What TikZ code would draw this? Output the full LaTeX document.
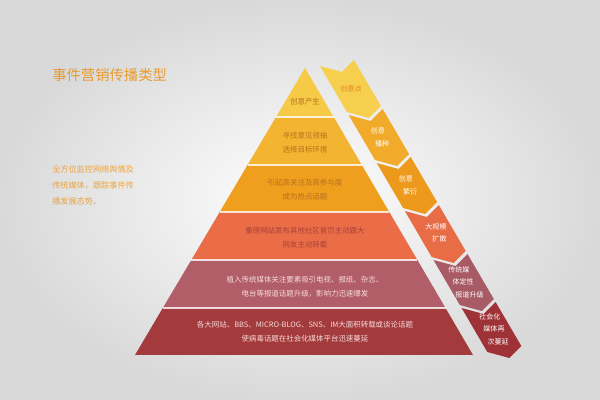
\documentclass[tikz,border=0pt]{standalone}
\usepackage{fontspec}
\usepackage{xcolor}
\usepackage{tikz}
\newfontfamily\cjk{Noto Sans CJK SC}
\definecolor{bgedge}{HTML}{D9D9D9}
\definecolor{layerA}{HTML}{F6CA47}
\definecolor{layerB}{HTML}{F3B432}
\definecolor{layerC}{HTML}{EF9E1E}
\definecolor{layerD}{HTML}{EB6D47}
\definecolor{layerE}{HTML}{B15E69}
\definecolor{layerF}{HTML}{A33A3C}
\definecolor{stepA}{HTML}{F7CF4F}
\definecolor{stepB}{HTML}{F1AA2A}
\definecolor{stepC}{HTML}{EC991C}
\definecolor{stepD}{HTML}{E86C46}
\definecolor{stepE}{HTML}{A85A65}
\definecolor{stepF}{HTML}{9E3236}
\definecolor{titleorange}{HTML}{E99A2E}
\definecolor{stepone}{HTML}{E0861C}
\definecolor{noteorange}{HTML}{EDA43C}
\definecolor{textbrown}{HTML}{B8701E}
\definecolor{textmaroon}{HTML}{A8403A}
\definecolor{textpink}{HTML}{F6DADA}

\begin{document}
\begin{tikzpicture}[x=0.025cm, y=-0.025cm,
        layertext/.style={font=\cjk\fontsize{5.3}{10}\selectfont, align=center, inner sep=0pt},
        steptext/.style={font=\cjk\fontsize{5}{9}\selectfont, align=left, inner sep=0pt, text=white},
        gap/.style={draw=white, line width=1.1pt, opacity=0.8}]
        \useasboundingbox (0,0) rectangle (600,400);
        \shade[inner color=white, outer color=bgedge] (0,0) rectangle (600,400);

        % pyramid
        \fill[layerA] (305,68) -- (333.7,117) -- (276.0,117) -- cycle;
        \fill[layerB] (276.0,117) -- (333.7,117) -- (361.8,165) -- (247.5,165) -- cycle;
        \fill[layerC] (247.5,165) -- (361.8,165) -- (389.3,212) -- (219.7,212) -- cycle;
        \fill[layerD] (219.7,212) -- (389.3,212) -- (417.4,260) -- (191.3,260) -- cycle;
        \fill[layerE] (191.3,260) -- (417.4,260) -- (445.5,308) -- (162.8,308) -- cycle;
        \fill[layerF] (162.8,308) -- (445.5,308) -- (473,355) -- (135,355) -- cycle;
        \draw[gap] (276.0,117) -- (333.7,117);
        \draw[gap] (247.5,165) -- (361.8,165);
        \draw[gap] (219.7,212) -- (389.3,212);
        \draw[gap] (191.3,260) -- (417.4,260);
        \draw[gap] (162.8,308) -- (445.5,308);

        \node[layertext, text=textbrown] (Layer-1) at (305,102) {创意产生};
        \node[layertext, text=textbrown] (Layer-2) at (305,143) {寻找意见领袖\\选择目标环境};
        \node[layertext, text=textbrown] (Layer-3) at (305,190) {引起高关注及高参与度\\成为热点话题};
        \node[layertext, text=textmaroon] (Layer-4) at (305,238) {重磅网站发布其他社区首页主动跟大\\网友主动转载};
        \node[layertext, text=textpink] (Layer-5) at (305,287) {植入传统媒体关注要素吸引电视、报纸、杂志、\\电台等报道话题升级，影响力迅速爆发};
        \node[layertext, text=textpink] (Layer-6) at (305,332) {各大网站、BBS、MICRO-BLOG、SNS、IM大面积转载或谈论话题\\使病毒话题在社会化媒体平台迅速蔓延};

        % chevron steps
        \fill[stepA] (320,66) -- (342,72) -- (354,60) -- (380.9,106) -- (368.9,118) -- (346.9,112) -- cycle;
        \fill[stepB] (348.7,115) -- (370.7,121) -- (382.7,109) -- (409,154) -- (397,166) -- (375,160) -- cycle;
        \fill[stepC] (376.7,163) -- (398.7,169) -- (410.7,157) -- (437.1,202) -- (425.1,214) -- (403.1,208) -- cycle;
        \fill[stepD] (404.8,211) -- (426.8,217) -- (438.8,205) -- (465.7,251) -- (453.7,263) -- (431.7,257) -- cycle;
        \fill[stepE] (433.5,260) -- (455.5,266) -- (467.5,254) -- (493.8,299) -- (481.8,311) -- (459.8,305) -- cycle;
        \fill[stepF] (461.6,308) -- (483.6,314) -- (495.6,302) -- (521.3,346) -- (509.3,358) -- (487.3,352) -- cycle;

        \node[steptext, text=stepone] (Step-1) at (351,89) {创意点};
        \node[steptext] (Step-2) at (380,137) {创意\\\hspace*{3pt}播种};
        \node[steptext] (Step-3) at (408,185) {创意\\\hspace*{3pt}繁衍};
        \node[steptext] (Step-4) at (436,233) {大规模\\\hspace*{5pt}扩散};
        \node[steptext] (Step-5) at (466,282) {传统媒\\\hspace*{3pt}体定性\\\hspace*{5pt}报道升级};
        \node[steptext] (Step-6) at (494,329) {社会化\\\hspace*{3pt}媒体再\\\hspace*{6pt}次蔓延};

        % title and note
        \node[anchor=west, inner sep=0pt, text=titleorange, font=\cjk\fontsize{10.2}{12}\selectfont] (Title) at (52,75) {事件营销传播类型};
        \node[anchor=north west, inner sep=0pt, align=left, text=noteorange, font=\cjk\fontsize{5.8}{11.3}\selectfont] (Note) at (52,165) {全方位监控网络舆情及\\传统媒体，跟踪事件传\\播发展态势。};
    \end{tikzpicture}
\end{document}
